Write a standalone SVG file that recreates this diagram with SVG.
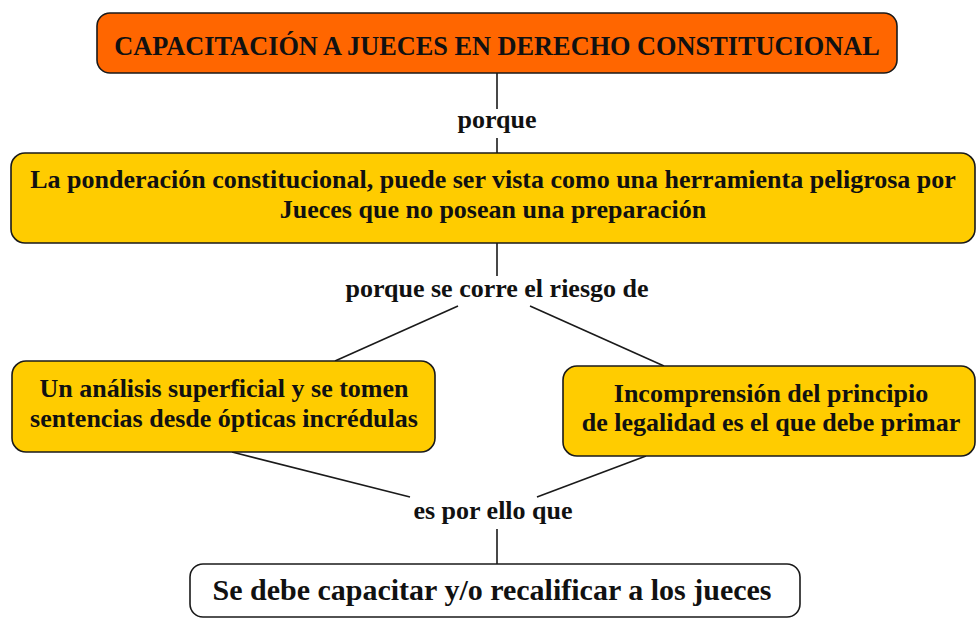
<svg xmlns="http://www.w3.org/2000/svg" width="976" height="619" viewBox="0 0 976 619">
<style>
.box{stroke:#1a1a1a;stroke-width:1.6}
.t{font-family:"Liberation Serif","Times New Roman",serif;font-weight:bold;fill:#111;text-anchor:middle}
.c{stroke:#1a1a1a;stroke-width:1.6;fill:none}
</style>
<rect width="976" height="619" fill="#fff"/>
<g id="connectors">
<line class="c" x1="497" y1="73" x2="497" y2="109"/>
<line class="c" x1="497" y1="138" x2="497" y2="153"/>
<line class="c" x1="497" y1="243" x2="497" y2="276"/>
<line class="c" x1="458" y1="306" x2="335" y2="361"/>
<line class="c" x1="530" y1="306" x2="664" y2="366"/>
<line class="c" x1="232" y1="452" x2="410" y2="497"/>
<line class="c" x1="646" y1="456" x2="537" y2="497"/>
<line class="c" x1="497" y1="529" x2="497" y2="564"/>
</g>
<g id="label-porque"><text class="t" x="497" y="128" font-size="26">porque</text></g>
<g id="label-riesgo"><text class="t" x="497" y="297" font-size="26">porque se corre el riesgo de</text></g>
<g id="label-ello"><text class="t" x="493" y="519" font-size="26">es por ello que</text></g>
<g id="n1">
<rect class="box" x="97" y="13" width="800" height="60" rx="13" fill="#ff6600"/>
<text class="t" x="497" y="55" font-size="26.3">CAPACITACIÓN A JUECES EN DERECHO CONSTITUCIONAL</text>
</g>
<g id="n2">
<rect class="box" x="11" y="153" width="964" height="90" rx="14" fill="#ffcc00"/>
<text class="t" x="493" y="188" font-size="26">La ponderación constitucional, puede ser vista como una herramienta peligrosa por</text>
<text class="t" x="493" y="218" font-size="26">Jueces que no posean una preparación</text>
</g>
<g id="n3">
<rect class="box" x="12" y="361" width="423" height="91" rx="14" fill="#ffcc00"/>
<text class="t" x="224" y="397" font-size="26">Un análisis superficial y se tomen</text>
<text class="t" x="224" y="427" font-size="26">sentencias desde ópticas incrédulas</text>
</g>
<g id="n4">
<rect class="box" x="563" y="366" width="412" height="90" rx="14" fill="#ffcc00"/>
<text class="t" x="771" y="402" font-size="26">Incomprensión del principio</text>
<text class="t" x="771" y="431" font-size="26">de legalidad es el que debe primar</text>
</g>
<g id="n5">
<rect class="box" x="190" y="564" width="610" height="53" rx="13" fill="#fff"/>
<text class="t" x="492" y="600" font-size="30">Se debe capacitar y/o recalificar a los jueces</text>
</g>
</svg>
